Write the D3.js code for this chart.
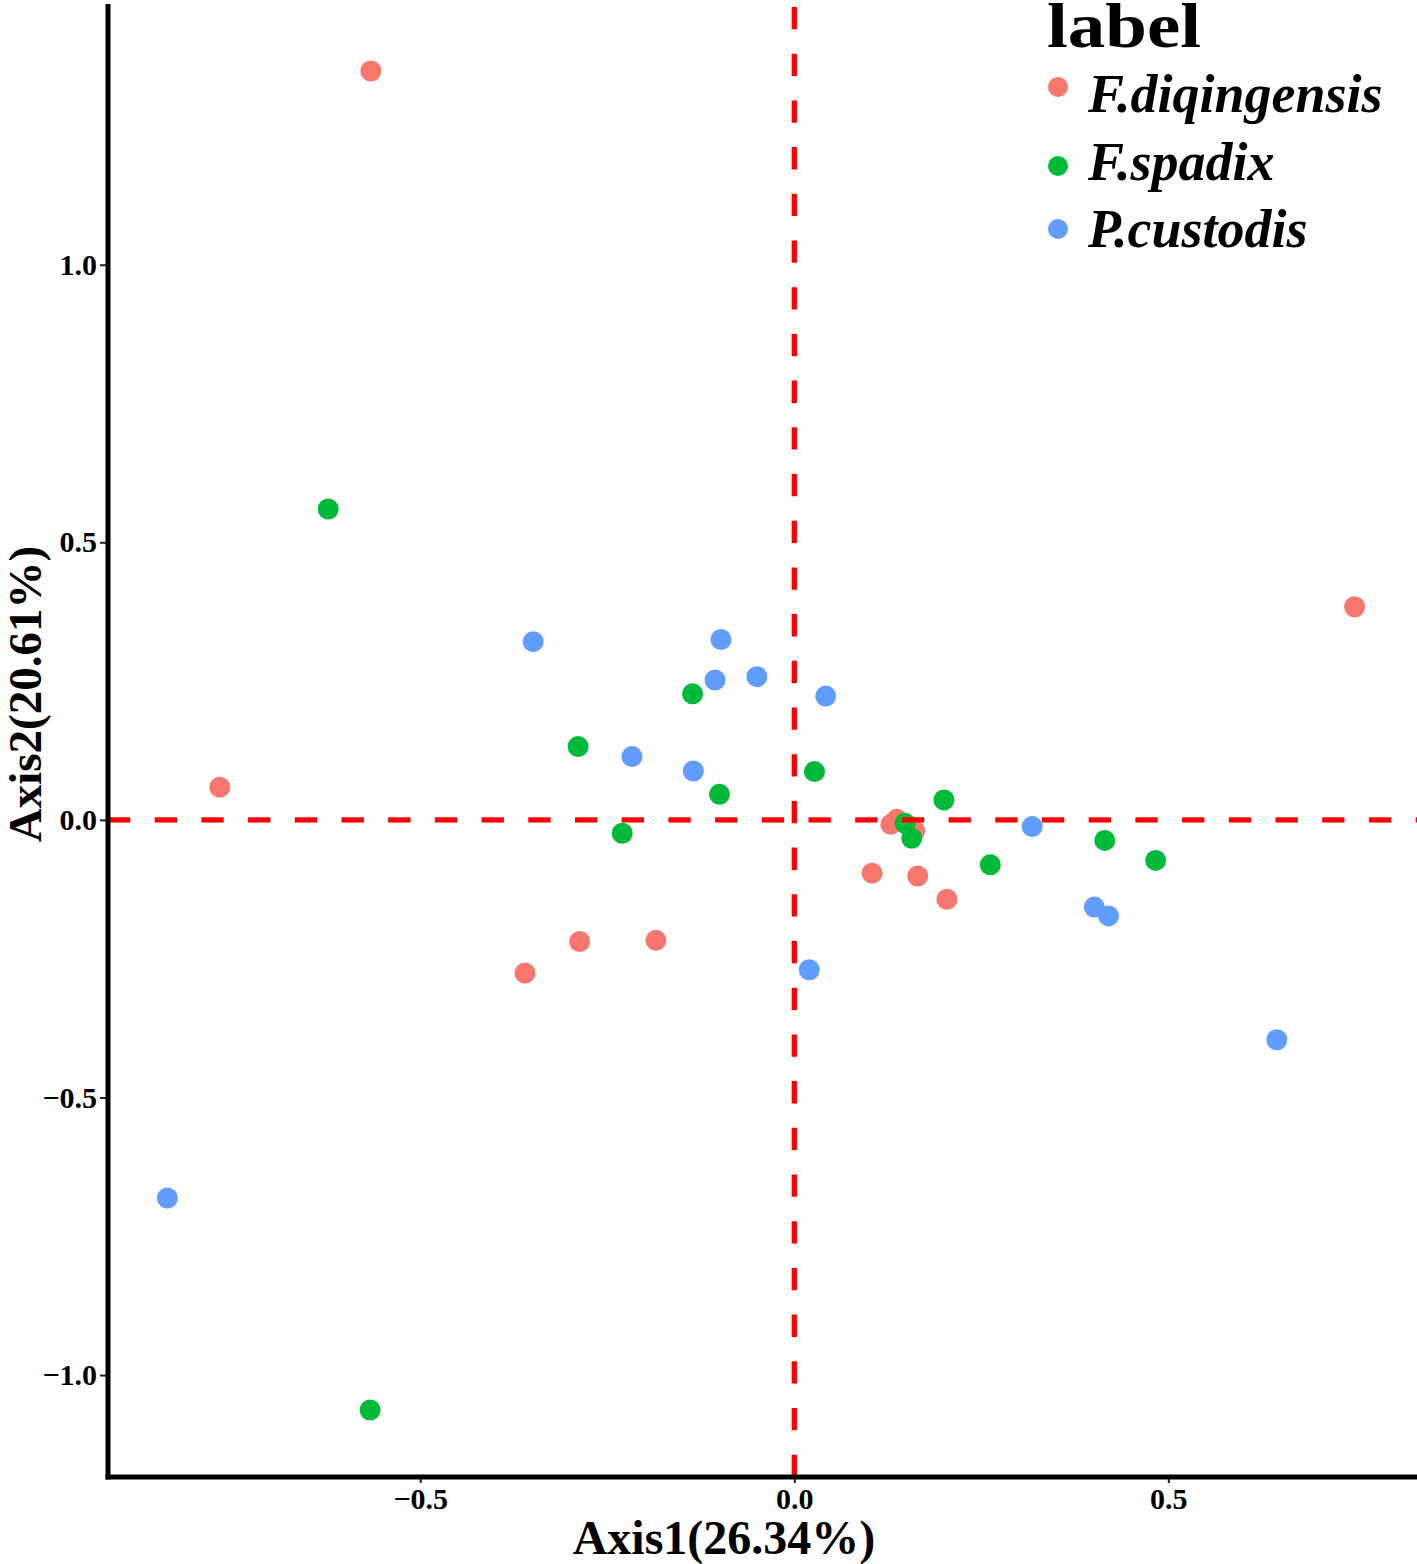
<!DOCTYPE html>
<html>
<head>
<meta charset="utf-8">
<script src="https://cdn.jsdelivr.net/npm/d3@7"></script>
<style>
  html, body { margin: 0; padding: 0; background: #fff; }
  svg { display: block; }
  text { font-family: "Liberation Serif", "Times New Roman", serif; font-weight: bold; }
</style>
</head>
<body>
<script>
// ---- data ----
const groups = ["F.diqingensis", "F.spadix", "P.custodis"];
const groupColors = ["#F8766D", "#00BA38", "#619CFF"];

const diqingensisX = [-0.566, 0.749, -0.768, 0.129, 0.137, 0.161, 0.104, 0.165, 0.204, -0.287, -0.185, -0.360];
const diqingensisY = [1.349, 0.384, 0.059, -0.008, 0.001, -0.020, -0.096, -0.101, -0.143, -0.219, -0.217, -0.276];

const spadixX = [-0.623, -0.136, -0.289, -0.100, 0.027, -0.230, 0.200, 0.148, 0.157, 0.262, 0.415, 0.483, -0.567];
const spadixY = [0.560, 0.227, 0.132, 0.046, 0.087, -0.024, 0.036, -0.006, -0.033, -0.081, -0.037, -0.073, -1.063];

const custodisX = [-0.349, -0.098, -0.106, -0.050, 0.042, -0.217, -0.135, 0.020, 0.318, 0.401, 0.420, 0.645, -0.838];
const custodisY = [0.321, 0.325, 0.252, 0.258, 0.223, 0.114, 0.088, -0.270, -0.012, -0.157, -0.173, -0.396, -0.681];

const xTicks = [-0.5, 0.0, 0.5];
const yTicks = [-1.0, -0.5, 0.0, 0.5, 1.0];
const xTitle = "Axis1(26.34%)";
const yTitle = "Axis2(20.61%)";
const legendTitle = "label";

// ---- build rows ----
const seriesX = [diqingensisX, spadixX, custodisX];
const seriesY = [diqingensisY, spadixY, custodisY];
const points = [];
groups.forEach((g, gi) => {
  seriesX[gi].forEach((xv, i) => points.push({ group: g, gi: gi, x: xv, y: seriesY[gi][i] }));
});

// ---- layout ----
const W = 1417, H = 1564;
const panel = { left: 108, right: 1414, top: 4, bottom: 1477 };

function expand(ext, f) {
  const r = ext[1] - ext[0];
  return [ext[0] - r * f, ext[1] + r * f];
}
const xDom = expand(d3.extent(points, d => d.x), 0.05);
const yDom = expand(d3.extent(points, d => d.y), 0.05);

const x = d3.scaleLinear().domain(xDom).range([panel.left, panel.right]);
const y = d3.scaleLinear().domain(yDom).range([panel.bottom, panel.top]);
const fmt = v => d3.format(".1f")(v).replace("-", "\u2212");

const svg = d3.select("body").append("svg").attr("width", W).attr("height", H);

// points
svg.append("g").selectAll("circle").data(points).join("circle")
  .attr("cx", d => x(d.x)).attr("cy", d => y(d.y)).attr("r", 10.5)
  .attr("fill", d => groupColors[d.gi]);

// reference dashed lines
svg.append("line")
  .attr("x1", panel.left).attr("x2", panel.right + 3)
  .attr("y1", y(0)).attr("y2", y(0))
  .attr("stroke", "#FF0000").attr("stroke-width", 5.3)
  .attr("stroke-dasharray", "22.3,24.4");
svg.append("line")
  .attr("x1", x(0)).attr("x2", x(0))
  .attr("y1", panel.bottom).attr("y2", 0)
  .attr("stroke", "#FF0000").attr("stroke-width", 5.3)
  .attr("stroke-dasharray", "22.3,24.4");

// axes
const xAxis = d3.axisBottom(x).tickValues(xTicks).tickFormat(fmt).tickSize(6).tickPadding(5);
const yAxis = d3.axisLeft(y).tickValues(yTicks).tickFormat(fmt).tickSize(8).tickPadding(3);

const gx = svg.append("g").attr("transform", `translate(0,${panel.bottom})`).call(xAxis);
gx.select(".domain").remove();
gx.selectAll(".tick line").attr("stroke", "#222").attr("stroke-width", 2);
gx.selectAll(".tick text").attr("font-size", 30).attr("fill", "#000")
  .attr("font-family", "Liberation Serif").attr("font-weight", "bold");

const gy = svg.append("g").attr("transform", `translate(${panel.left},0)`).call(yAxis);
gy.select(".domain").remove();
gy.selectAll(".tick line").attr("stroke", "#222").attr("stroke-width", 2);
gy.selectAll(".tick text").attr("font-size", 30).attr("fill", "#000")
  .attr("font-family", "Liberation Serif").attr("font-weight", "bold");

// axis lines
svg.append("line").attr("x1", panel.left).attr("x2", panel.left)
  .attr("y1", panel.top).attr("y2", panel.bottom + 2.5)
  .attr("stroke", "#000").attr("stroke-width", 5);
svg.append("line").attr("x1", panel.left - 2.5).attr("x2", W)
  .attr("y1", panel.bottom).attr("y2", panel.bottom)
  .attr("stroke", "#000").attr("stroke-width", 5);

// axis titles
svg.append("text").attr("x", 724).attr("y", 1554).attr("text-anchor", "middle")
  .attr("font-size", 48).attr("fill", "#000").text(xTitle);
svg.append("text").attr("transform", "translate(41,694) rotate(-90)").attr("text-anchor", "middle")
  .attr("font-size", 47).attr("fill", "#000").text(yTitle);

// legend
const legendDotY = [87, 166, 229];
const legendTextY = [112, 180, 247];
svg.append("text").attr("x", 1047).attr("y", 47).attr("font-size", 63)
  .attr("textLength", 154).attr("lengthAdjust", "spacingAndGlyphs")
  .attr("fill", "#000").text(legendTitle);
const lg = svg.append("g");
groups.forEach((g, i) => {
  lg.append("circle").attr("cx", 1058).attr("cy", legendDotY[i]).attr("r", 10).attr("fill", groupColors[i]);
  lg.append("text").attr("x", 1088).attr("y", legendTextY[i]).attr("font-size", 54)
    .attr("font-style", "italic").attr("fill", "#000").text(g);
});
</script>
</body>
</html>
